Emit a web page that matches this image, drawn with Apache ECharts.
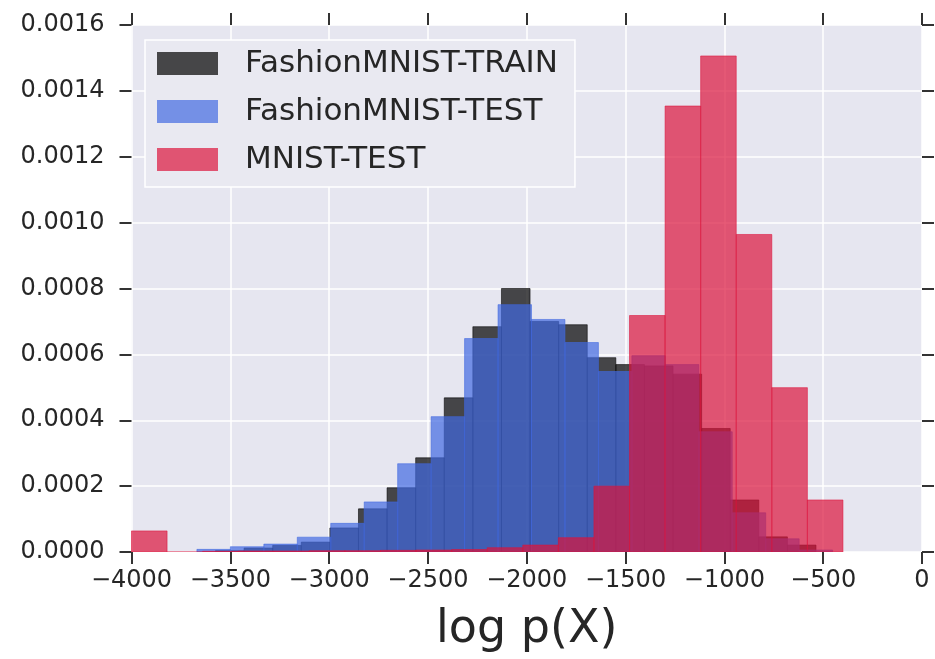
<!DOCTYPE html>
<html>
<head>
<meta charset="utf-8">
<title>log p(X) histograms</title>
<script src="https://cdn.jsdelivr.net/npm/echarts@6/dist/echarts.min.js"></script>
<style>
  html, body { margin: 0; padding: 0; background: #ffffff; }
  #chart { width: 935px; height: 659px; }
</style>
</head>
<body>
<div id="chart"></div>
<script>
// Histogram bins: each series uses its own equal-width bins (start + width)
const seriesNames = ['FashionMNIST-TRAIN', 'FashionMNIST-TEST', 'MNIST-TEST'];

const trainBinStart = -3575;
const trainBinWidth = 144.7;
const trainDensity = [
  0.000004, 0.000012, 0.00002, 0.00003, 0.000073, 0.000131, 0.000195,
  0.000286, 0.000468, 0.000684, 0.0008, 0.0007, 0.00069, 0.00059,
  0.000569, 0.000565, 0.00054, 0.000375, 0.000158, 0.000046, 0.000021
];

const testBinStart = -3669;
const testBinWidth = 169.3;
const testDensity = [
  0.000008, 0.000016, 0.000024, 0.000045, 0.000087, 0.000152, 0.000268,
  0.000411, 0.000648, 0.000751, 0.000706, 0.000636, 0.000548, 0.000596,
  0.000569, 0.000365, 0.000119, 0.00004, 0.000006
];

const mnistBinStart = -4000;
const mnistBinWidth = 180;
const mnistDensity = [
  0.000064, 0, 0.000002, 0.000003, 0.000003, 0.000004, 0.000004,
  0.000005, 0.000006, 0.0000075, 0.000013, 0.000021, 0.0000435, 0.0002,
  0.000718, 0.001354, 0.001506, 0.000964, 0.000499, 0.000158
];

// Axis ticks
const xTicks = [-4000, -3500, -3000, -2500, -2000, -1500, -1000, -500, 0];
const yTicks = [0, 0.0002, 0.0004, 0.0006, 0.0008, 0.001, 0.0012, 0.0014, 0.0016];

const fillColors = [
  'rgba(0,0,0,0.7)',
  'rgba(65,105,225,0.7)',
  'rgba(220,20,60,0.7)'
];

function toBars(start, width, values) {
  return values.map((v, i) => [start + i * width, start + (i + 1) * width, v]);
}

function renderBar(params, api) {
  const p0 = api.coord([api.value(0), api.value(2)]);
  const p1 = api.coord([api.value(1), 0]);
  const color = api.visual('color');
  return {
    type: 'rect',
    shape: { x: p0[0], y: p0[1], width: p1[0] - p0[0], height: p1[1] - p0[1] },
    style: { fill: color, stroke: color, lineWidth: 0.8 }
  };
}

const histSeries = [
  toBars(trainBinStart, trainBinWidth, trainDensity),
  toBars(testBinStart, testBinWidth, testDensity),
  toBars(mnistBinStart, mnistBinWidth, mnistDensity)
].map((data, i) => ({
  name: seriesNames[i],
  type: 'custom',
  renderItem: renderBar,
  itemStyle: { color: fillColors[i] },
  encode: { x: [0, 1], y: 2 },
  xAxisIndex: 0,
  yAxisIndex: 0,
  clip: true,
  data: data
}));

const textColor = '#262626';
const fontFamily = 'DejaVu Sans';
function tickStyle() {
  return { show: true, inside: false, length: 12, lineStyle: { color: '#333333', width: 2 } };
}
const minus = v => (v < 0 ? '\u2212' + Math.abs(v) : String(v));

function xAxisDef(pos, withLabels) {
  return {
    type: 'value', min: xTicks[0], max: xTicks[xTicks.length - 1], interval: 500,
    position: pos,
    axisLine: { show: true, onZero: false, lineStyle: { color: 'rgba(0,0,0,0)' } },
    axisTick: tickStyle(),
    axisLabel: withLabels
      ? { fontSize: 24, color: textColor, margin: 17, formatter: minus, fontFamily: fontFamily }
      : { show: false },
    splitLine: withLabels
      ? { show: true, lineStyle: { color: '#ffffff', width: 1.5 } }
      : { show: false }
  };
}

function yAxisDef(pos, withLabels) {
  return {
    type: 'value', min: yTicks[0], max: yTicks[yTicks.length - 1], interval: 0.0002,
    position: pos,
    axisLine: { show: true, onZero: false, lineStyle: { color: 'rgba(0,0,0,0)' } },
    axisTick: tickStyle(),
    axisLabel: withLabels
      ? { fontSize: 24, color: textColor, margin: 27, formatter: v => v.toFixed(4), fontFamily: fontFamily }
      : { show: false },
    splitLine: withLabels
      ? { show: true, lineStyle: { color: '#ffffff', width: 1.5 } }
      : { show: false }
  };
}

const bottomAxis = xAxisDef('bottom', true);
bottomAxis.name = 'log p(X)';
bottomAxis.nameLocation = 'middle';
bottomAxis.nameGap = 55;
bottomAxis.nameTextStyle = { fontSize: 46, color: textColor, fontFamily: fontFamily };

const chart = echarts.init(document.getElementById('chart'), null, { renderer: 'canvas' });
chart.setOption({
  animation: false,
  backgroundColor: '#ffffff',
  textStyle: { fontFamily: fontFamily },
  grid: {
    left: 131.5, right: 13, top: 25, bottom: 107,
    show: true, backgroundColor: '#E6E6F0', borderWidth: 0
  },
  legend: {
    data: seriesNames,
    orient: 'vertical',
    left: 145, top: 40,
    padding: [8, 17, 12, 12],
    itemWidth: 61, itemHeight: 23, itemGap: 17,
    icon: 'rect',
    backgroundColor: '#E9E9F1',
    borderColor: '#ffffff', borderWidth: 1.5,
    selectedMode: false,
    textStyle: { fontSize: 31, lineHeight: 31, color: textColor, fontFamily: fontFamily, padding: [0, 0, 0, 22] }
  },
  xAxis: [bottomAxis, xAxisDef('top', false)],
  yAxis: [yAxisDef('left', true), yAxisDef('right', false)],
  series: histSeries
});
</script>
</body>
</html>
